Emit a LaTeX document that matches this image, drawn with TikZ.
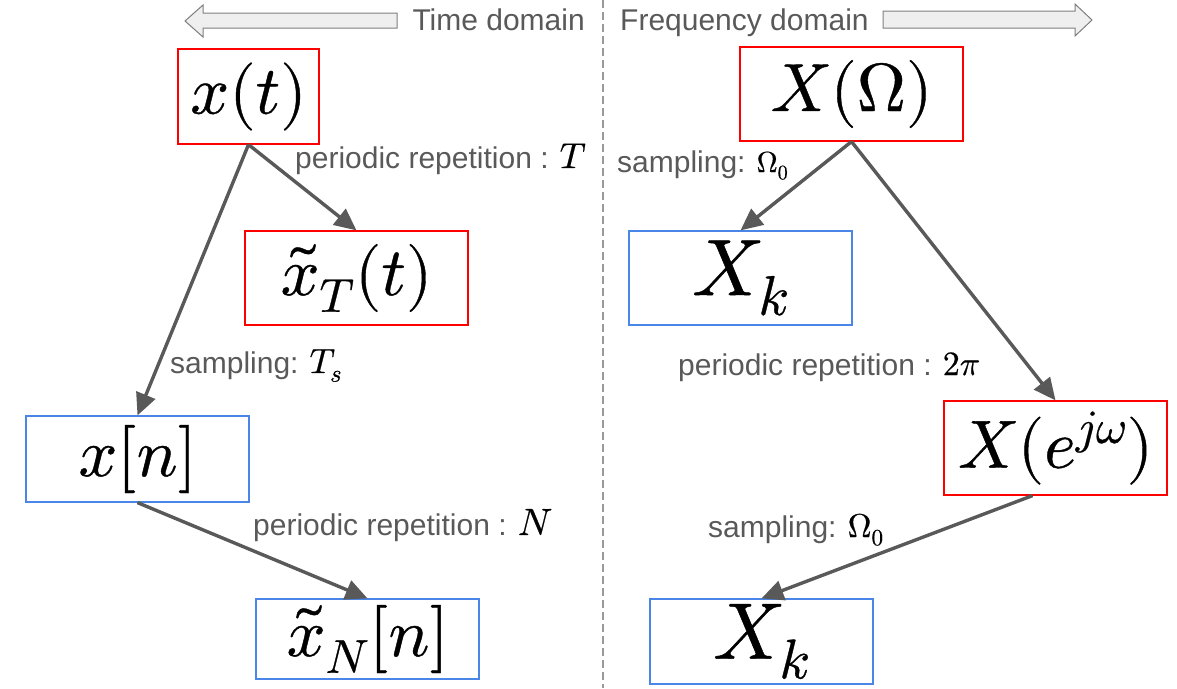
\documentclass[tikz,border=0pt]{standalone}
\usepackage{fontspec}
\usepackage{unicode-math}
\setmathfont{Latin Modern Math}[FakeBold=0.6]
\setsansfont{Liberation Sans}
\usetikzlibrary{arrows.meta, positioning}

\definecolor{boxred}{HTML}{FF0000}
\definecolor{boxblue}{HTML}{4A86E8}
\definecolor{flowgray}{HTML}{595959}
\definecolor{headgray}{HTML}{7F7F7F}
\definecolor{headfill}{HTML}{EFEFEF}
\definecolor{splitgray}{HTML}{999999}

\begin{document}
\begin{tikzpicture}[x=1pt, y=-1pt,
    ctbox/.style={draw=boxred, line width=1.2pt, minimum width=223pt, minimum height=94pt,
                  inner sep=0pt, font=\fontsize{68}{80}\selectfont},
    dtbox/.style={ctbox, draw=boxblue},
    flow/.style={-{Triangle[length=22pt, width=20pt]}, line width=3.4pt, draw=flowgray},
    lbl/.style={anchor=base west, inner sep=0pt, text=flowgray,
                font=\sffamily\fontsize{30}{36}\selectfont},
    hdr/.style={inner sep=0pt, text=flowgray, font=\sffamily\fontsize{30}{36}\selectfont},
    domarrow/.style={draw=headgray, fill=headfill, line width=1pt}]

    \useasboundingbox (0,0) rectangle (1177,688);

    % Divider between the two domains
    \draw[splitgray, line width=1.5pt, dash pattern=on 8pt off 4pt] (603,0) -- (603,688);

    % Domain headers
    \draw[domarrow] (185,21) -- (203,5) -- (203,13) -- (397,13) -- (397,28)
        -- (203,28) -- (203,37) -- cycle;
    \node[hdr, anchor=base east] (timehd) at (585,30) {Time domain};
    \node[hdr, anchor=base west] (freqhd) at (620,30) {Frequency domain};
    \draw[domarrow] (1092,20) -- (1075,4) -- (1075,11) -- (883,11) -- (883,28)
        -- (1075,28) -- (1075,36) -- cycle;

    % Time domain
    \node[ctbox, minimum width=141pt, minimum height=95pt] (xt) at (248.5,96.5) {$x(t)$};
    \node[ctbox] (xT) at (356.5,278) {$\tilde{x}_T(t)$};
    \node[dtbox, minimum height=86pt] (xn) at (137.5,459) {$x[n]$};
    \node[dtbox, minimum height=80pt] (xN) at (367.5,639) {$\tilde{x}_N[n]$};

    \draw[flow] (xt.south) -- (xT.north);
    \draw[flow] (xt.south) -- (xn.north);
    \draw[flow] (xn.south) -- (xN.north);

    \node[lbl] (lblT) at (295,168) {periodic repetition : \textcolor{black}{\fontsize{36}{40}\selectfont$T$}};
    \node[lbl] (lblTs) at (170,373) {sampling: \textcolor{black}{\fontsize{35}{40}\selectfont$T_s$}};
    \node[lbl] (lblN) at (253,535) {periodic repetition : \textcolor{black}{\fontsize{38}{42}\selectfont$N$}};

    % Frequency domain
    \node[ctbox] (XO) at (851.5,94) {$X(\Omega)$};
    \node[dtbox, font=\fontsize{80}{90}\selectfont] (Xk1) at (740.5,278) {$X_k$};
    \node[ctbox] (Xejw) at (1055.5,448) {$X(e^{j\omega})$};
    \node[dtbox, minimum height=85pt, font=\fontsize{80}{90}\selectfont] (Xk2) at (761.5,641.5) {$X_k$};

    \draw[flow] (XO.south) -- (Xk1.north);
    \draw[flow] (XO.south) -- (Xejw.north);
    \draw[flow] ([xshift=-23pt]Xejw.south) -- (Xk2.north);

    \node[lbl] (lblOm1) at (617,172) {sampling: \textcolor{black}{\fontsize{29}{34}\selectfont$\Omega_0$}};
    \node[lbl] (lbl2pi) at (678,375) {periodic repetition : \textcolor{black}{\fontsize{34}{38}\selectfont$2\pi$}};
    \node[lbl] (lblOm2) at (708,537) {sampling: \textcolor{black}{\fontsize{33}{38}\selectfont$\Omega_0$}};

\end{tikzpicture}
\end{document}
